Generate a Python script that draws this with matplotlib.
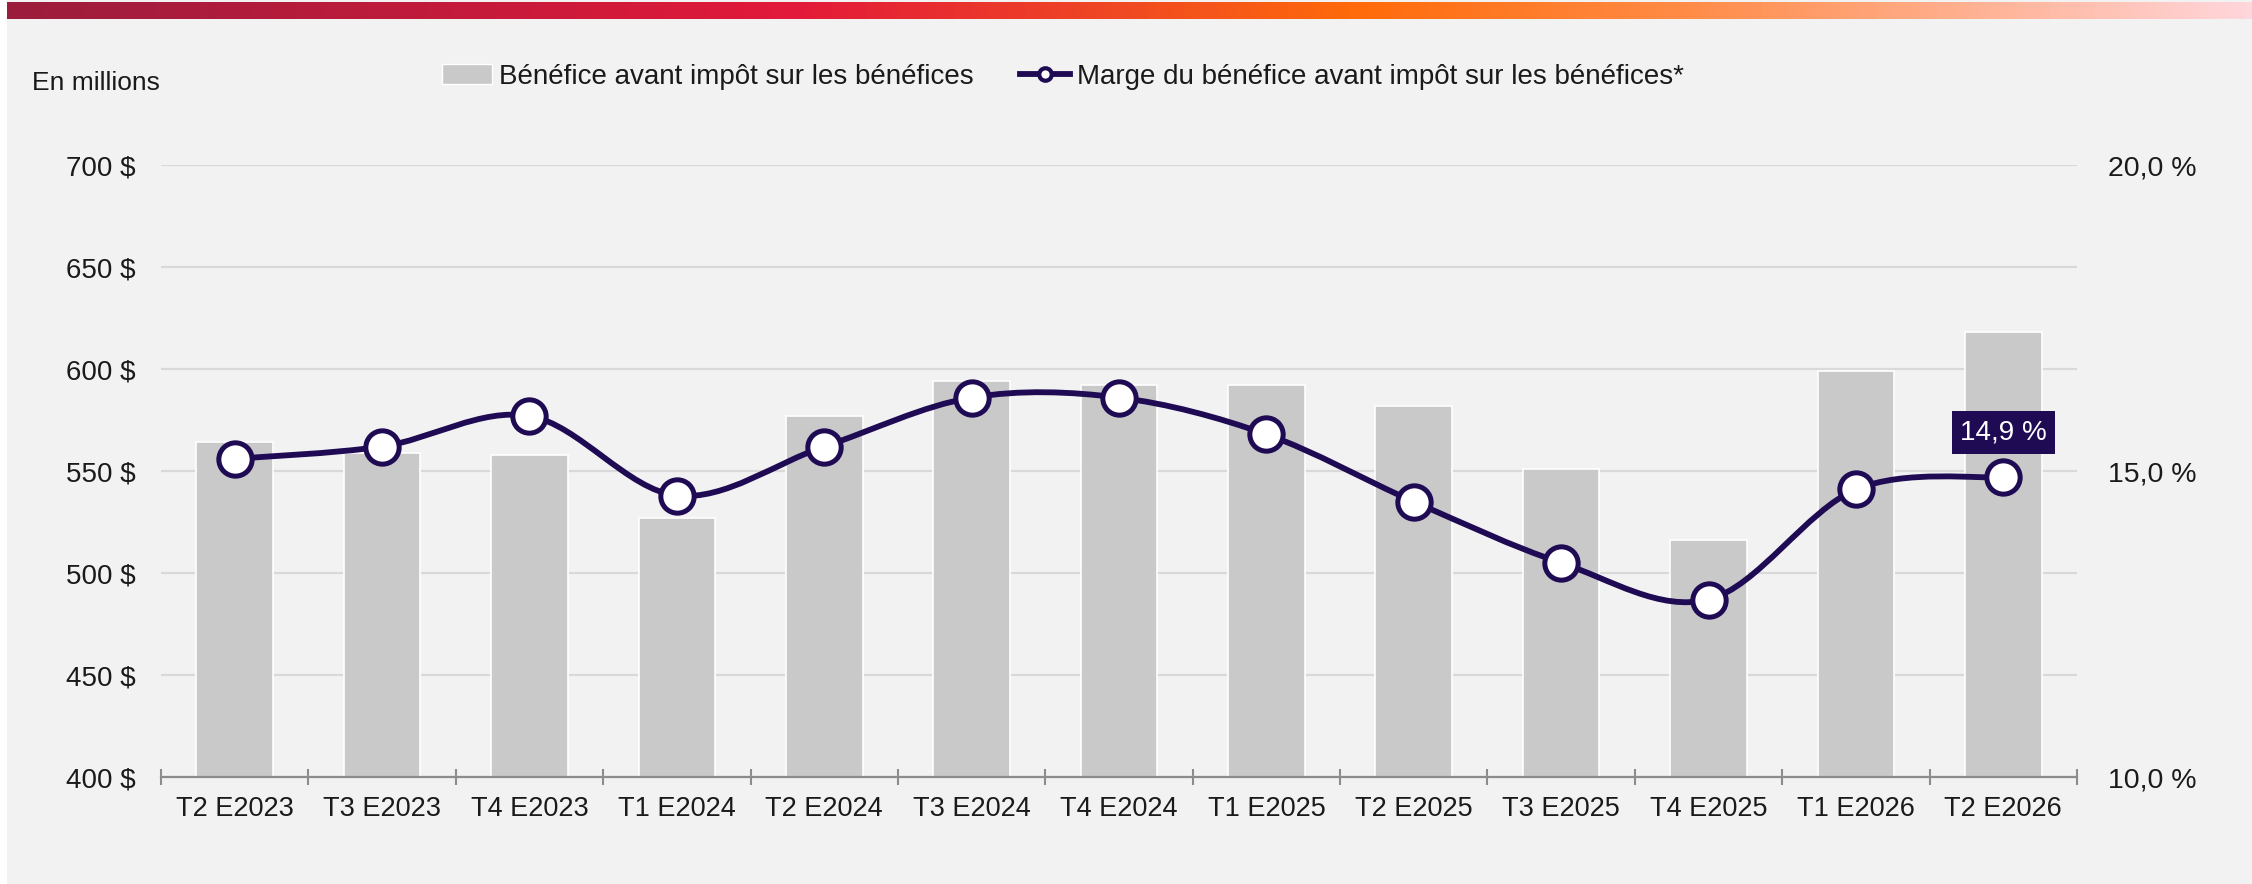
import matplotlib
matplotlib.use("Agg")
import matplotlib.pyplot as plt
import numpy as np
from matplotlib.path import Path
from matplotlib.patches import PathPatch, Patch
from matplotlib.lines import Line2D
from matplotlib.colors import LinearSegmentedColormap

plt.rcParams["font.family"] = ["Liberation Sans", "DejaVu Sans"]

quarters = ["T2 E2023", "T3 E2023", "T4 E2023", "T1 E2024", "T2 E2024", "T3 E2024",
            "T4 E2024", "T1 E2025", "T2 E2025", "T3 E2025", "T4 E2025", "T1 E2026", "T2 E2026"]
profit = [564, 559, 558, 527, 577, 594, 592, 592, 582, 551, 516, 599, 618]
margin = [15.2, 15.4, 15.9, 14.6, 15.4, 16.2, 16.2, 15.6, 14.5, 13.5, 12.9, 14.7, 14.9]
left_ticks = [400, 450, 500, 550, 600, 650, 700]
right_ticks = [10, 15, 20]

BG = "#f2f2f2"
BAR = "#c9c9c9"
LINE = "#1f0a54"
TXT = "#1a1a1a"


def smooth_path(xs, ys):
    # bezier segments like a spreadsheet "smoothed line"
    pts = np.column_stack([xs, ys]).astype(float)
    n = len(pts)
    verts = [pts[0]]
    codes = [Path.MOVETO]
    for i in range(n - 1):
        p0 = pts[max(i - 1, 0)]
        p1 = pts[i]
        p2 = pts[i + 1]
        p3 = pts[min(i + 2, n - 1)]
        c1 = p1 + (p2 - p0) / 6
        c2 = p2 - (p3 - p1) / 6
        verts += [c1, c2, p2]
        codes += [Path.CURVE4] * 3
    return Path(verts, codes)


fig = plt.figure(figsize=(22.52, 8.84), dpi=100)
fig.patch.set_facecolor("white")
bg = fig.add_axes([0.003, 0, 0.997, 1])
bg.set_facecolor(BG)
bg.set_xticks([])
bg.set_yticks([])
for s in bg.spines.values():
    s.set_visible(False)

# gradient strip along the top
gax = fig.add_axes([0.003, 0.979, 0.997, 0.019])
cmap = LinearSegmentedColormap.from_list("strip", [
    (0.0, "#9b1d3d"), (0.35, "#e3193a"), (0.5, "#f04a22"), (0.6, "#ff6a0a"),
    (0.75, "#ff8c48"), (0.9, "#ffb8a0"), (1.0, "#ffd6dc")])
gax.imshow(np.linspace(0, 1, 512)[None, :], aspect="auto", cmap=cmap)
gax.axis("off")

ax = fig.add_axes([0.0715, 0.121, 0.8508, 0.6923])
ax.set_facecolor("none")
x = np.arange(len(quarters))
ax.bar(x, profit, width=0.52, color=BAR, edgecolor="white", linewidth=1.2, zorder=2)
ax.set_ylim(400, 700)
ax.set_xlim(-0.5, len(quarters) - 0.5)
ax.set_yticks(left_ticks)
ax.set_yticklabels([f"{v} $" for v in left_ticks])
ax.yaxis.grid(True, color="#d9d9d9", linewidth=1.6, zorder=0)
ax.set_axisbelow(True)
ax.set_xticks(x)
ax.set_xticklabels(quarters)
ax.set_xticks(np.arange(-0.5, len(quarters)), minor=True)
ax.tick_params(axis="x", which="major", length=0, pad=14, labelsize=19.5, colors=TXT)
ax.tick_params(axis="x", which="minor", length=12, direction="inout", color="#8c8c8c", width=1.5)
ax.tick_params(axis="y", length=0, pad=18, labelsize=20, colors=TXT)
for side in ["top", "right", "left"]:
    ax.spines[side].set_visible(False)
ax.spines["bottom"].set_color("#8c8c8c")
ax.spines["bottom"].set_linewidth(1.6)
ax.spines["bottom"].set_zorder(3)

ax2 = ax.twinx()
ax2.set_ylim(10, 20)
ax2.set_yticks(right_ticks)
ax2.set_yticklabels([f"{v:.1f} %".replace(".", ",") for v in right_ticks])
ax2.tick_params(axis="y", length=0, pad=22, labelsize=20.5, colors=TXT)
for s in ax2.spines.values():
    s.set_visible(False)
ax2.add_patch(PathPatch(smooth_path(x, margin), facecolor="none", edgecolor=LINE,
                        linewidth=4.2, zorder=4, capstyle="round"))
ax2.plot(x, margin, linestyle="none", marker="o", markersize=24, markerfacecolor="white",
         markeredgecolor=LINE, markeredgewidth=3.6, zorder=5)
ax2.annotate(f"{margin[-1]:.1f} %".replace(".", ","), (x[-1], margin[-1]), xytext=(0, 32),
             textcoords="offset points", ha="center", va="center", color="white", fontsize=20,
             bbox=dict(boxstyle="square,pad=0.3", fc=LINE, ec="none"), zorder=6)

fig.text(0.0142, 0.906, "En millions", fontsize=19, color=TXT, va="center")

handles = [Patch(facecolor=BAR, edgecolor="white"),
           Line2D([], [], color=LINE, linewidth=4.2, marker="o", markersize=9,
                  markerfacecolor="white", markeredgecolor=LINE, markeredgewidth=3)]
labels = ["Bénéfice avant impôt sur les bénéfices",
          "Marge du bénéfice avant impôt sur les bénéfices*"]
fig.legend(handles, labels, loc="center", bbox_to_anchor=(0.472, 0.913), ncol=2, frameon=False,
           fontsize=20, handlelength=1.8, handletextpad=0.25, columnspacing=1.7, labelcolor=TXT)

fig.savefig("out.png", dpi=100, facecolor="white")
